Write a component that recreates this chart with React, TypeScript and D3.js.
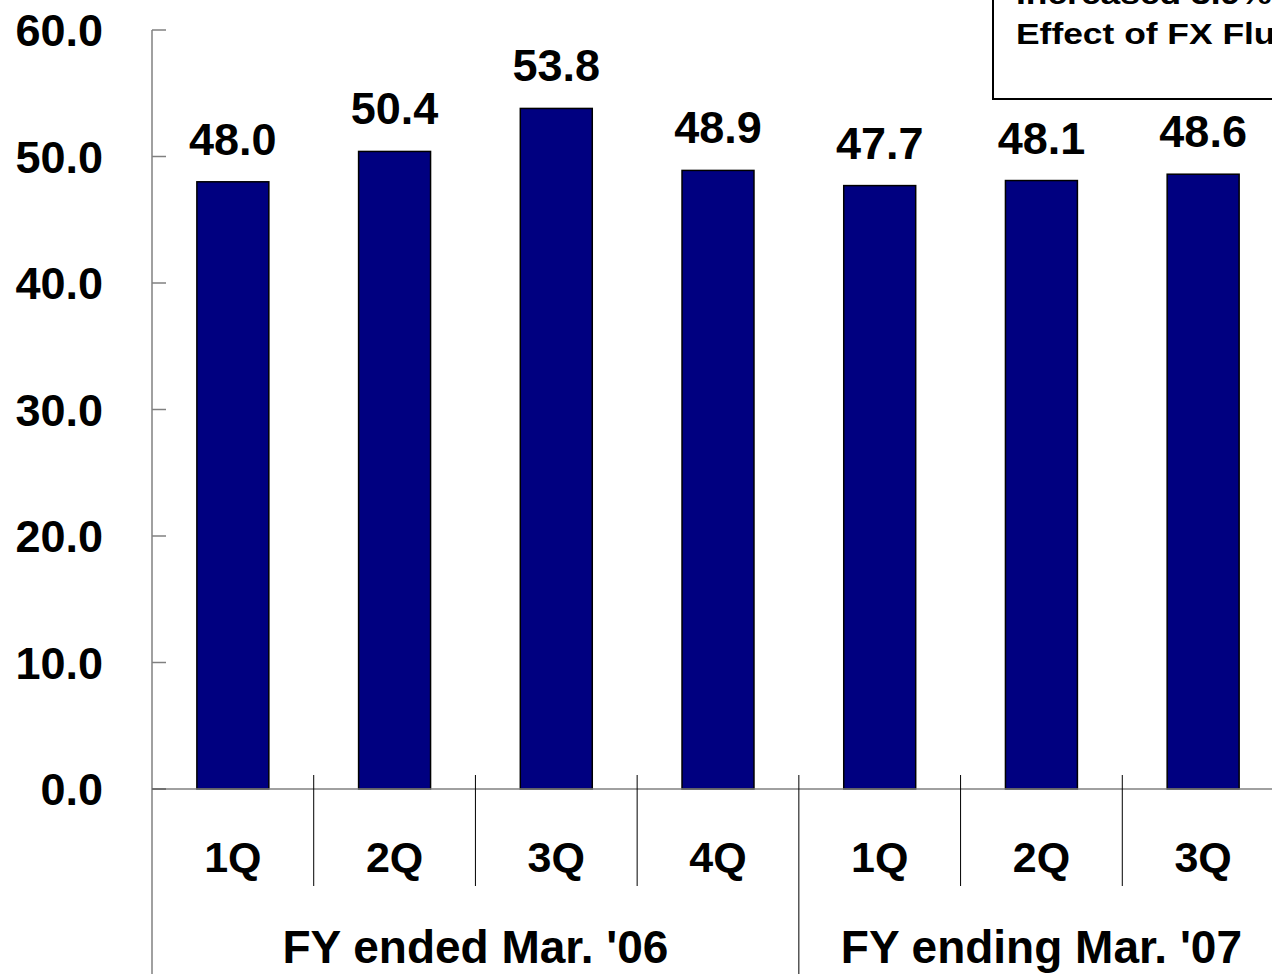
import React from 'react';
import * as d3 from 'd3';

const periods = ['1Q', '2Q', '3Q', '4Q', '1Q', '2Q', '3Q'];
const values = [48.0, 50.4, 53.8, 48.9, 47.7, 48.1, 48.6];
const fiscalYears = ["FY ended Mar. '06", "FY ending Mar. '07"];
const fiscalYearQuarters = [4, 3];
const yTicks = [0, 10, 20, 30, 40, 50, 60];
const noteLines = ['Increased 3.9% Excluding', 'Effect of FX Fluctuation'];

const W = 1272;
const H = 974;
const FONT = '"Liberation Sans", Arial, sans-serif';

const App = () => {
    // Scales
    const x = d3.scaleBand<number>()
        .domain(d3.range(periods.length))
        .range([152, 1284])
        .padding(0);
    const step = x.step();
    const barW = step * 0.445;

    const y = d3.scaleLinear().domain([0, 60]).range([789, 30]);

    // group boundaries (cumulative quarters)
    const groupStarts = [0];
    fiscalYearQuarters.forEach((q, i) => groupStarts.push(groupStarts[i] + q));
    const boundaryX = (i: number) => (i < periods.length ? (x(i) as number) : x.range()[1]);

    return (
        <svg width={W} height={H} style={{ position: 'absolute', left: 0, top: 0, background: '#fff' }}
            fontFamily={FONT} fontWeight="bold">
            {/* Note box (cut off at top-right) */}
            <rect x={993} y={-60} width={400} height={159} fill="#fff" stroke="#000" strokeWidth={2} />
            <g transform="translate(1016,0) scale(1.18,1)">
                {noteLines.map((t, i) => (
                    <text key={i} x={0} y={4 + i * 40} fontSize={30} fill="#000">{t}</text>
                ))}
            </g>

            {/* Y axis */}
            <line x1={152} x2={152} y1={y(60)} y2={H} stroke="#808080" strokeWidth={1.5} />
            {yTicks.map(t => (
                <g key={t}>
                    <line x1={152} x2={166} y1={y(t)} y2={y(t)} stroke={t === 0 ? '#000' : '#808080'} strokeWidth={1.5} />
                    <text x={103} y={y(t)} dy="0.36em" textAnchor="end" fontSize={45}>{d3.format('.1f')(t)}</text>
                </g>
            ))}

            {/* Bars */}
            {values.map((v, i) => {
                const cx = (x(i) as number) + step / 2;
                return (
                    <g key={i}>
                        <rect x={cx - barW / 2} y={y(v)} width={barW} height={y(0) - y(v)}
                            fill="#000080" stroke="#000" strokeWidth={1.5} />
                        <text x={cx} y={y(v) - 27} textAnchor="middle" fontSize={45}>{d3.format('.1f')(v)}</text>
                    </g>
                );
            })}

            {/* Baseline */}
            <line x1={152} x2={W} y1={y(0)} y2={y(0)} stroke="#808080" strokeWidth={1.5} />

            {/* Category separators */}
            {d3.range(1, periods.length + 1).map(i => {
                const isGroup = groupStarts.includes(i);
                return (
                    <line key={i} x1={boundaryX(i)} x2={boundaryX(i)} y1={775} y2={isGroup ? H : 886}
                        stroke="#000" strokeWidth={1} />
                );
            })}

            {/* Quarter labels */}
            {periods.map((p, i) => (
                <text key={i} x={(x(i) as number) + step / 2} y={872} textAnchor="middle" fontSize={43}>{p}</text>
            ))}

            {/* Fiscal year labels */}
            {fiscalYears.map((fy, i) => {
                const x0 = boundaryX(groupStarts[i]);
                const x1 = boundaryX(groupStarts[i + 1]);
                return (
                    <text key={fy} x={(x0 + x1) / 2} y={963} textAnchor="middle" fontSize={46}>{fy}</text>
                );
            })}
        </svg>
    );
};

export default App;
